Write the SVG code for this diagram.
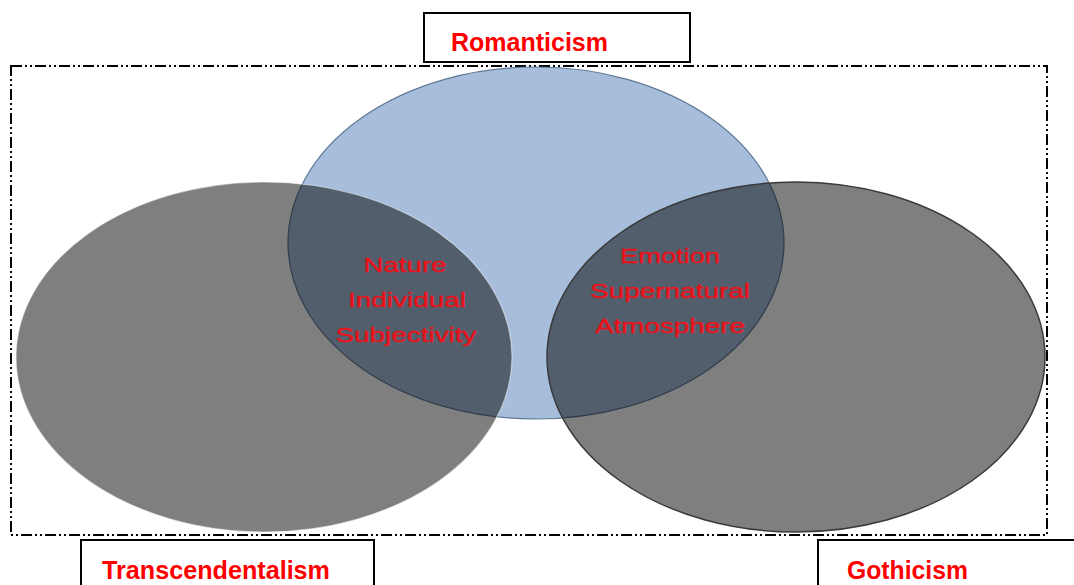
<svg xmlns="http://www.w3.org/2000/svg" width="1074" height="585" viewBox="0 0 1074 585">
<style>
.lbl{font-family:"Liberation Sans",Arial,sans-serif;font-weight:bold;fill:#ff0000;font-size:25px}
.box{fill:#fff;stroke:#000;stroke-width:2}
.inner{font-family:"Liberation Sans",Arial,sans-serif;fill:#e8121a;stroke:#e8121a;stroke-width:0.4;font-size:20px;text-anchor:middle}
</style>
<rect width="1074" height="585" fill="#fff"/>
<g id="frame">
<rect x="11" y="66" width="1036" height="469" fill="none" stroke="#000" stroke-width="2" stroke-dasharray="11,3,2,3,2,3"/>
</g>
<g id="romanticism">
<ellipse cx="536" cy="243" rx="248" ry="176" fill="#a6bddb" stroke="#5f7897" stroke-width="1.2"/>
</g>
<g id="transcendentalism">
<ellipse cx="264" cy="357" rx="248" ry="175" fill="#000" fill-opacity="0.5" stroke="#ffffff" stroke-opacity="0.5" stroke-width="1.2"/>
</g>
<g id="gothicism">
<ellipse cx="796" cy="357" rx="249" ry="175" fill="#000" fill-opacity="0.5" stroke="#3a3a3a" stroke-width="1.5"/>
</g>
<g id="overlap-left">
<text class="inner" x="405" y="272" textLength="83" lengthAdjust="spacingAndGlyphs">Nature</text>
<text class="inner" x="407" y="307" textLength="118" lengthAdjust="spacingAndGlyphs">Individual</text>
<text class="inner" x="406" y="342" textLength="141" lengthAdjust="spacingAndGlyphs">Subjectivity</text>
</g>
<g id="overlap-right">
<text class="inner" x="670" y="263" textLength="100" lengthAdjust="spacingAndGlyphs">Emotion</text>
<text class="inner" x="670" y="298" textLength="160" lengthAdjust="spacingAndGlyphs">Supernatural</text>
<text class="inner" x="670" y="333" textLength="150" lengthAdjust="spacingAndGlyphs">Atmosphere</text>
</g>
<g id="label-romanticism">
<rect class="box" x="424" y="13" width="266" height="49"/>
<text class="lbl" x="451" y="51" textLength="157" lengthAdjust="spacingAndGlyphs">Romanticism</text>
</g>
<g id="label-transcendentalism">
<rect class="box" x="81" y="540" width="293" height="60"/>
<text class="lbl" x="102" y="579" textLength="228" lengthAdjust="spacingAndGlyphs">Transcendentalism</text>
</g>
<g id="label-gothicism">
<rect class="box" x="818" y="540" width="270" height="60"/>
<text class="lbl" x="847" y="579" textLength="121" lengthAdjust="spacingAndGlyphs">Gothicism</text>
</g>
</svg>
